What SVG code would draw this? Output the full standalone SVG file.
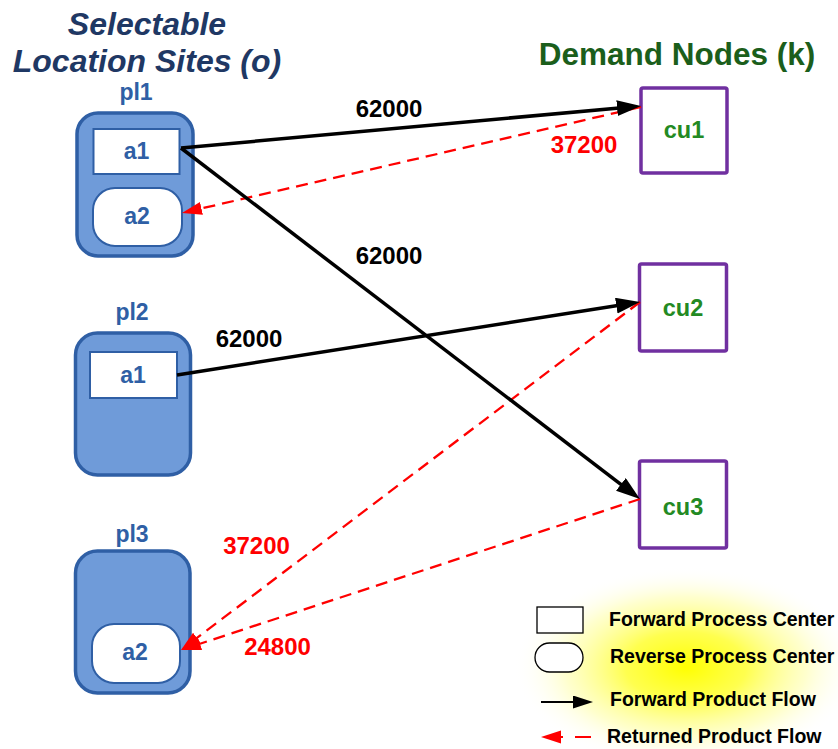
<svg xmlns="http://www.w3.org/2000/svg" width="838" height="749" viewBox="0 0 838 749">
<style>
text{font-family:"Liberation Sans",Arial,sans-serif;font-weight:bold;text-anchor:middle}
.site{fill:#6F9BD9;stroke:#2F5FA5;stroke-width:3.5}
.fwd{fill:#fff;stroke:#2F5FA5;stroke-width:2}
.rev{fill:#fff;stroke:#2F5FA5;stroke-width:2}
.ntx{fill:#2F5FA5;font-size:23px}
.cu{fill:#fff;stroke:#7030A0;stroke-width:3.5}
.cutx{fill:#238A23;font-size:23.5px}
.fl{stroke:#000;stroke-width:3.5;fill:none}
.rl{stroke:#FF0000;stroke-width:2.3;fill:none;stroke-dasharray:12 7}
.bl{fill:#000;font-size:24px}
.rd{fill:#FF0000;font-size:24px}
.lg{fill:#000;font-size:19.5px;text-anchor:start}
</style>
<defs>
<marker id="ah" markerUnits="userSpaceOnUse" markerWidth="26" markerHeight="18" refX="16" refY="8" orient="auto">
<path d="M0,0 L24,8 L0,16 z" fill="#000"/>
</marker>
<marker id="rh" markerUnits="userSpaceOnUse" markerWidth="22" markerHeight="14" refX="14" refY="6.5" orient="auto">
<path d="M0,0 L20,6.5 L0,13 z" fill="#FF0000"/>
</marker>
<marker id="lah" markerUnits="userSpaceOnUse" markerWidth="22" markerHeight="14" refX="12" refY="6.5" orient="auto">
<path d="M0,0 L20,6.5 L0,13 z" fill="#000"/>
</marker>
<radialGradient id="glow" cx="0.5" cy="0.5" r="0.5">
<stop offset="0" stop-color="#FFFF00" stop-opacity="1"/>
<stop offset="0.35" stop-color="#FFFF30" stop-opacity="0.85"/>
<stop offset="0.7" stop-color="#FFFF90" stop-opacity="0.45"/>
<stop offset="1" stop-color="#FFFFFF" stop-opacity="0"/>
</radialGradient>
</defs>
<rect width="838" height="749" fill="#fff"/>

<g id="titles">
<text x="147" y="35" fill="#1F3864" font-size="32" font-style="italic">Selectable</text>
<text x="147" y="72" fill="#1F3864" font-size="32" font-style="italic">Location Sites (o)</text>
<text x="677" y="65" fill="#1B5E1B" font-size="31.5">Demand Nodes (k)</text>
</g>

<g id="pl1">
<text class="ntx" x="136" y="100">pl1</text>
<rect class="site" x="77" y="113" width="116" height="143" rx="21"/>
<rect class="fwd" x="93.5" y="129" width="86" height="45"/>
<text class="ntx" x="136.5" y="159">a1</text>
<rect class="rev" x="93" y="188" width="89" height="58" rx="22"/>
<text class="ntx" x="137" y="224">a2</text>
</g>

<g id="pl2">
<text class="ntx" x="132" y="320">pl2</text>
<rect class="site" x="75.5" y="333" width="115" height="142" rx="22"/>
<rect class="fwd" x="90" y="352" width="87" height="46"/>
<text class="ntx" x="133" y="383">a1</text>
</g>

<g id="pl3">
<text class="ntx" x="132" y="542">pl3</text>
<rect class="site" x="75.5" y="551" width="114.5" height="142" rx="22"/>
<rect class="rev" x="92" y="624" width="88" height="59" rx="22"/>
<text class="ntx" x="135" y="660">a2</text>
</g>

<g id="cu1">
<rect class="cu" x="641" y="88" width="86" height="85" rx="2"/>
<text class="cutx" x="684" y="138">cu1</text>
</g>
<g id="cu2">
<rect class="cu" x="639.5" y="264" width="87" height="87" rx="2"/>
<text class="cutx" x="683" y="316">cu2</text>
</g>
<g id="cu3">
<rect class="cu" x="639.5" y="461" width="87" height="87" rx="2"/>
<text class="cutx" x="683" y="515">cu3</text>
</g>

<g id="connectors">
<line class="rl" x1="641" y1="107" x2="187.8" y2="211.6" marker-end="url(#rh)"/>
<line class="rl" x1="640" y1="302" x2="185.8" y2="646.4" marker-end="url(#rh)"/>
<line class="rl" x1="640" y1="499" x2="186.7" y2="648.1" marker-end="url(#rh)"/>
<line class="fl" x1="181" y1="148" x2="633" y2="106.7" marker-end="url(#ah)"/>
<line class="fl" x1="181" y1="148" x2="633.6" y2="494.1" marker-end="url(#ah)"/>
<line class="fl" x1="177" y1="375" x2="632.1" y2="303.2" marker-end="url(#ah)"/>
</g>

<g id="flow-labels">
<text class="bl" x="389" y="117">62000</text>
<text class="bl" x="389" y="264">62000</text>
<text class="bl" x="249" y="347">62000</text>
<text class="rd" x="584" y="153">37200</text>
<text class="rd" x="256.5" y="554">37200</text>
<text class="rd" x="277.5" y="655">24800</text>
</g>

<g id="legend">
<ellipse cx="686" cy="667" rx="172" ry="100" fill="url(#glow)"/>
<rect x="537" y="607" width="46" height="26" fill="#fff" stroke="#000" stroke-width="1.3"/>
<rect x="535" y="643" width="48" height="29" rx="14.5" fill="#fff" stroke="#000" stroke-width="1.3"/>
<line x1="541" y1="702" x2="585" y2="702" stroke="#000" stroke-width="2" marker-end="url(#lah)"/>
<line x1="591" y1="737" x2="547" y2="737" stroke="#FF0000" stroke-width="2" stroke-dasharray="16 12" marker-end="url(#rh)"/>
<text class="lg" x="609" y="626">Forward Process Center</text>
<text class="lg" x="610" y="663">Reverse Process Center</text>
<text class="lg" x="610" y="706">Forward Product Flow</text>
<text class="lg" x="607" y="743">Returned Product Flow</text>
</g>
</svg>
